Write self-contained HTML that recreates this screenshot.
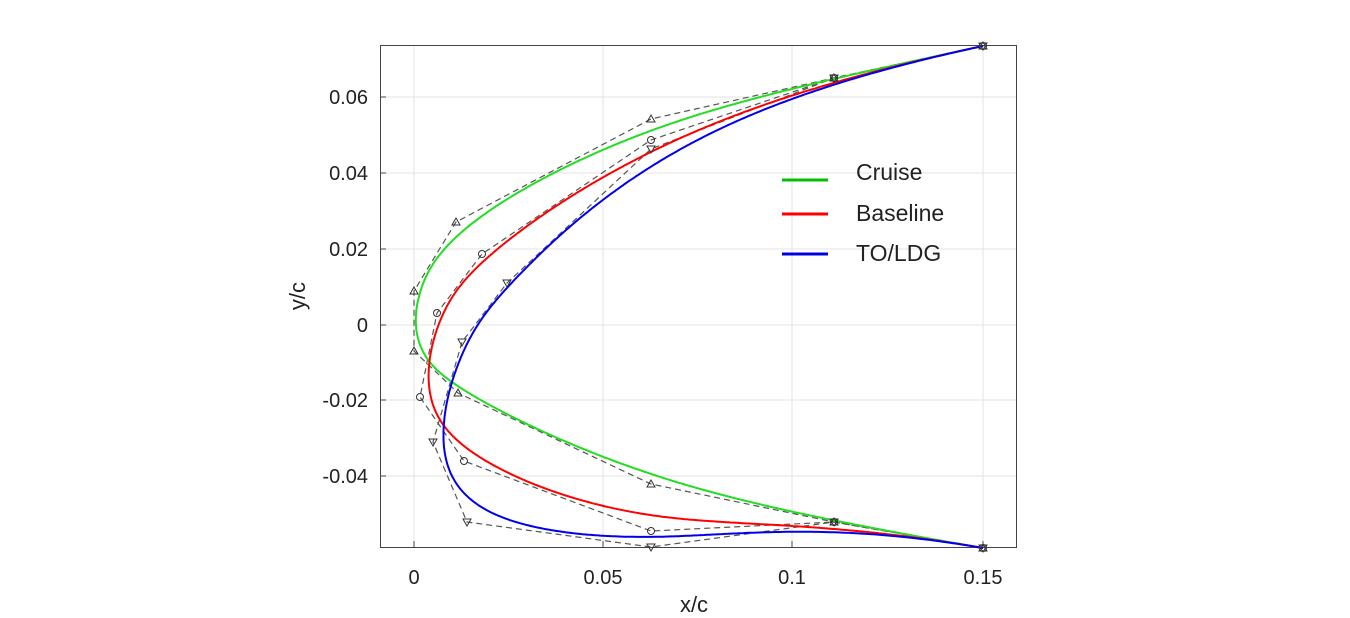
<!DOCTYPE html>
<html><head><meta charset="utf-8"><style>
html,body{margin:0;padding:0;background:#fff;}
svg{display:block;font-family:"Liberation Sans",sans-serif;}
</style></head><body>
<svg id="s" width="1350" height="618" viewBox="0 0 1350 618" xmlns="http://www.w3.org/2000/svg">
<g stroke="#e3e3e3" stroke-width="1">
<line x1="414" y1="45" x2="414" y2="547"/><line x1="603" y1="45" x2="603" y2="547"/><line x1="792" y1="45" x2="792" y2="547"/><line x1="983" y1="45" x2="983" y2="547"/>
<line x1="380" y1="97" x2="1017" y2="97"/><line x1="380" y1="173" x2="1017" y2="173"/><line x1="380" y1="249" x2="1017" y2="249"/><line x1="380" y1="325" x2="1017" y2="325"/><line x1="380" y1="400" x2="1017" y2="400"/><line x1="380" y1="476" x2="1017" y2="476"/>
</g>
<rect x="380.5" y="45.5" width="636" height="502" fill="none" stroke="#444" stroke-width="1"/>
<g stroke="#444"><line x1="414" y1="547" x2="414" y2="541"/><line x1="603" y1="547" x2="603" y2="541"/><line x1="792" y1="547" x2="792" y2="541"/><line x1="983" y1="547" x2="983" y2="541"/>
<line x1="380" y1="97" x2="386" y2="97"/><line x1="380" y1="173" x2="386" y2="173"/><line x1="380" y1="249" x2="386" y2="249"/><line x1="380" y1="325" x2="386" y2="325"/><line x1="380" y1="400" x2="386" y2="400"/><line x1="380" y1="476" x2="386" y2="476"/></g>
<g font-size="20" fill="#222" text-anchor="middle">
<text x="414" y="584">0</text><text x="603" y="584">0.05</text><text x="792" y="584">0.1</text><text x="983" y="584">0.15</text>
<text x="694" y="612" font-size="22">x/c</text>
</g>
<g font-size="20" fill="#222" text-anchor="end">
<text x="368" y="104">0.06</text><text x="368" y="180">0.04</text><text x="368" y="256">0.02</text><text x="368" y="332">0</text><text x="368" y="407">-0.02</text><text x="368" y="483">-0.04</text>
</g>
<text x="305" y="296" font-size="22" fill="#222" text-anchor="middle" transform="rotate(-90 305 296)">y/c</text>
<g id="curves"></g>
<g font-size="23" fill="#222">
<line x1="782" y1="180" x2="828" y2="180" stroke="#00c000" stroke-width="3"/><text x="856" y="180">Cruise</text>
<line x1="782" y1="214" x2="828" y2="214" stroke="#ff0000" stroke-width="3"/><text x="856" y="221">Baseline</text>
<line x1="782" y1="254" x2="828" y2="254" stroke="#0000e0" stroke-width="3"/><text x="856" y="261">TO/LDG</text>
</g>
</svg>
<script>
var sets=[
 {c:"#22dd22",m:"up",p:[[983,46],[834,78],[651,119],[456,222],[414,291],[414,351],[458,393],[651,484],[834,522],[983,548]]},
 {c:"#ff0000",m:"o",p:[[983,46],[834,78],[651,140],[482,254],[437,313],[420,397],[464,461],[651,531],[834,522],[983,548]]},
 {c:"#0000ee",m:"dn",p:[[983,46],[834,78],[651,149],[507,283],[462,342],[433,442],[467,522],[651,547],[834,522],[983,548]]}
];
function bs(P){var n=P.length,k=3,kn=[];for(var i=0;i<=n+k;i++){kn.push(i<=k?0:(i>=n?n-k:i-k));}
var out=[],tmax=n-k;for(var s=0;s<=600;s++){var t=s/600*tmax;if(t>=tmax)t=tmax-1e-9;var j=k;while(kn[j+1]<=t)j++;
var d=[];for(var i=0;i<=k;i++)d.push([P[j-k+i][0],P[j-k+i][1]]);
for(var r=1;r<=k;r++)for(var i=k;i>=r;i--){var a=(t-kn[j-k+i])/(kn[j+1+i-r]-kn[j-k+i]);d[i]=[(1-a)*d[i-1][0]+a*d[i][0],(1-a)*d[i-1][1]+a*d[i][1]];}
out.push(d[k]);}return out;}
var g=document.getElementById("curves"),h="";
sets.forEach(function(S){h+='<polyline fill="none" stroke="#555" stroke-width="1.2" stroke-dasharray="6,4" points="'+S.p.map(function(q){return q.join(",")}).join(" ")+'"/>';});
sets.forEach(function(S){h+='<polyline fill="none" stroke="'+S.c+'" stroke-width="2" points="'+bs(S.p).map(function(q){return q[0].toFixed(1)+","+q[1].toFixed(1)}).join(" ")+'"/>';});
sets.forEach(function(S){S.p.forEach(function(q){var x=q[0],y=q[1];
if(S.m=="o")h+='<circle cx="'+x+'" cy="'+y+'" r="3.5" fill="none" stroke="#333"/>';
else if(S.m=="up")h+='<polygon points="'+x+','+(y-4)+' '+(x-4)+','+(y+3)+' '+(x+4)+','+(y+3)+'" fill="none" stroke="#333"/>';
else h+='<polygon points="'+x+','+(y+4)+' '+(x-4)+','+(y-3)+' '+(x+4)+','+(y-3)+'" fill="none" stroke="#333"/>';});});
g.innerHTML=h;
</script>
</body></html>
